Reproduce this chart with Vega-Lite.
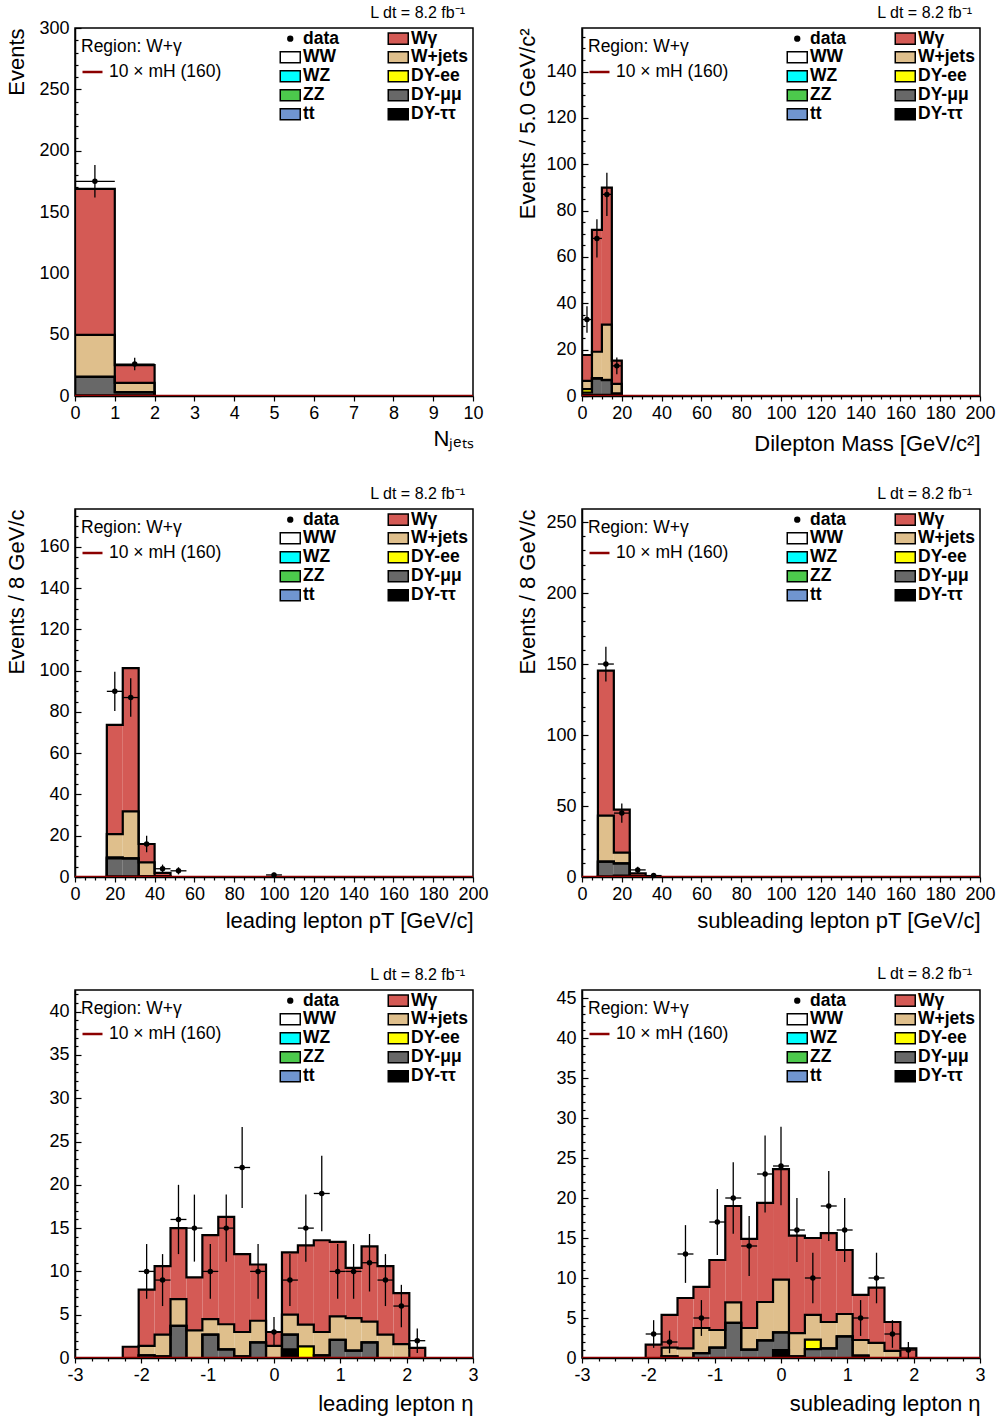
{
"$schema": "https://vega.github.io/schema/vega-lite/v6.json",
"background": "white",
"padding": {"left": 5, "top": 4, "right": 5, "bottom": 5},
"bounds": "flush",
"columns": 2,
"spacing": {"row": 113, "column": 109},
"datasets": {
"procs": [{"k":"tt","proc":"DY-ττ","o":0},{"k":"mm","proc":"DY-μμ","o":1},{"k":"ee","proc":"DY-ee","o":2},{"k":"wj","proc":"W+jets","o":3},{"k":"wg","proc":"Wγ","o":4}],
"nj_mc": [
{"lo":-1,"hi":0,"c":-0.5,"tt":0,"mm":0,"ee":0,"wj":0,"wg":0},
{"lo":0,"hi":1,"c":0.5,"tt":0.5,"mm":15,"ee":0.3,"wj":34,"wg":119},
{"lo":1,"hi":2,"c":1.5,"tt":0.5,"mm":2.5,"ee":0.2,"wj":7.5,"wg":14.5},
{"lo":2,"hi":3,"c":2.5,"tt":0,"mm":0,"ee":0,"wj":0,"wg":0}],
"nj_d": [{"lo":0,"hi":1,"c":0.5,"n":175,"e":13.23},{"lo":1,"hi":2,"c":1.5,"n":26,"e":5.1}],
"ml_mc": [
{"lo":-5,"hi":0,"c":-2.5,"tt":0,"mm":0,"ee":0,"wj":0,"wg":0},
{"lo":0,"hi":5,"c":2.5,"tt":0.5,"mm":1,"ee":1.5,"wj":3.5,"wg":11.2},
{"lo":5,"hi":10,"c":7.5,"tt":0.5,"mm":7,"ee":0.2,"wj":11.4,"wg":52.6},
{"lo":10,"hi":15,"c":12.5,"tt":0.5,"mm":6.3,"ee":0.2,"wj":23.8,"wg":59.1},
{"lo":15,"hi":20,"c":17.5,"tt":0.3,"mm":0.7,"ee":0,"wj":4.2,"wg":10.1},
{"lo":20,"hi":25,"c":22.5,"tt":0,"mm":0,"ee":0,"wj":0,"wg":0}],
"ml_d": [{"lo":0,"hi":5,"c":2.5,"n":33,"e":5.74},{"lo":5,"hi":10,"c":7.5,"n":68,"e":8.25},{"lo":10,"hi":15,"c":12.5,"n":87,"e":9.33},{"lo":15,"hi":20,"c":17.5,"n":13,"e":3.61}],
"lp_mc": [
{"lo":8,"hi":16,"c":12,"tt":0,"mm":0,"ee":0,"wj":0,"wg":0},
{"lo":16,"hi":24,"c":20,"tt":0.3,"mm":8.7,"ee":0.5,"wj":11.3,"wg":52.9},
{"lo":24,"hi":32,"c":28,"tt":0.3,"mm":8.7,"ee":0,"wj":22.8,"wg":69.5},
{"lo":32,"hi":40,"c":36,"tt":0,"mm":0.3,"ee":0,"wj":6.8,"wg":8.9},
{"lo":40,"hi":48,"c":44,"tt":0,"mm":0,"ee":0,"wj":0.4,"wg":1.6},
{"lo":48,"hi":56,"c":52,"tt":0,"mm":0,"ee":0,"wj":0,"wg":0}],
"lp_d": [{"lo":16,"hi":24,"c":20,"n":90,"e":9.49},{"lo":24,"hi":32,"c":28,"n":87,"e":9.33},{"lo":32,"hi":40,"c":36,"n":16,"e":4},{"lo":40,"hi":48,"c":44,"n":4,"e":2},{"lo":48,"hi":56,"c":52,"n":3,"e":1.73},{"lo":96,"hi":104,"c":100,"n":1,"e":1}],
"sp_mc": [
{"lo":0,"hi":8,"c":4,"tt":0,"mm":0,"ee":0,"wj":0,"wg":0},
{"lo":8,"hi":16,"c":12,"tt":0.5,"mm":10.3,"ee":0,"wj":32.4,"wg":102.1},
{"lo":16,"hi":24,"c":20,"tt":1,"mm":8.6,"ee":0,"wj":7.5,"wg":30.3},
{"lo":24,"hi":32,"c":28,"tt":0,"mm":0,"ee":0,"wj":0.6,"wg":2},
{"lo":32,"hi":40,"c":36,"tt":0,"mm":0,"ee":0,"wj":0,"wg":0}],
"sp_d": [{"lo":8,"hi":16,"c":12,"n":150,"e":12.25},{"lo":16,"hi":24,"c":20,"n":45,"e":6.71},{"lo":24,"hi":32,"c":28,"n":5,"e":2.24},{"lo":32,"hi":40,"c":36,"n":1,"e":1}],
"le_mc": [
{"lo":-2.52,"hi":-2.28,"c":-2.4,"tt":0,"mm":0,"ee":0,"wj":0,"wg":0},
{"lo":-2.28,"hi":-2.04,"c":-2.16,"tt":0,"mm":0,"ee":0,"wj":0,"wg":1.3},
{"lo":-2.04,"hi":-1.8,"c":-1.92,"tt":0,"mm":0.3,"ee":0,"wj":1.1,"wg":6.5},
{"lo":-1.8,"hi":-1.56,"c":-1.68,"tt":0,"mm":0.2,"ee":0,"wj":2.5,"wg":7.9},
{"lo":-1.56,"hi":-1.32,"c":-1.44,"tt":0,"mm":3.7,"ee":0,"wj":3.1,"wg":8.2},
{"lo":-1.32,"hi":-1.08,"c":-1.2,"tt":0,"mm":0,"ee":0,"wj":3.2,"wg":6.1},
{"lo":-1.08,"hi":-0.84,"c":-0.96,"tt":0,"mm":2.7,"ee":0,"wj":1.8,"wg":9.7},
{"lo":-0.84,"hi":-0.6,"c":-0.72,"tt":0,"mm":1,"ee":0,"wj":2.9,"wg":12.4},
{"lo":-0.6,"hi":-0.36,"c":-0.48,"tt":0,"mm":0.2,"ee":0,"wj":2.8,"wg":9},
{"lo":-0.36,"hi":-0.12,"c":-0.24,"tt":0,"mm":1.8,"ee":0,"wj":2.5,"wg":6.5},
{"lo":-0.12,"hi":0.12,"c":0,"tt":0,"mm":0,"ee":0,"wj":1.4,"wg":1.6},
{"lo":0.12,"hi":0.36,"c":0.24,"tt":1,"mm":1.7,"ee":0,"wj":2.3,"wg":7.2},
{"lo":0.36,"hi":0.6,"c":0.48,"tt":0,"mm":0,"ee":1.35,"wj":2.5,"wg":9.15},
{"lo":0.6,"hi":0.84,"c":0.72,"tt":0,"mm":0.3,"ee":0,"wj":2.7,"wg":10.6},
{"lo":0.84,"hi":1.08,"c":0.96,"tt":0,"mm":2.1,"ee":0,"wj":2.7,"wg":8.6},
{"lo":1.08,"hi":1.32,"c":1.2,"tt":0,"mm":0.85,"ee":0,"wj":3.75,"wg":5.8},
{"lo":1.32,"hi":1.56,"c":1.44,"tt":0,"mm":1.8,"ee":0,"wj":2.4,"wg":8.7},
{"lo":1.56,"hi":1.8,"c":1.68,"tt":0,"mm":0,"ee":0,"wj":2.7,"wg":7.9},
{"lo":1.8,"hi":2.04,"c":1.92,"tt":0,"mm":0,"ee":0,"wj":1.6,"wg":5.9},
{"lo":2.04,"hi":2.28,"c":2.16,"tt":0,"mm":0,"ee":0,"wj":0,"wg":1.16},
{"lo":2.28,"hi":2.52,"c":2.4,"tt":0,"mm":0,"ee":0,"wj":0,"wg":0}],
"le_d": [
{"lo":-2.04,"hi":-1.8,"c":-1.92,"n":10,"e":3.16},
{"lo":-1.8,"hi":-1.56,"c":-1.68,"n":9,"e":3},
{"lo":-1.56,"hi":-1.32,"c":-1.44,"n":16,"e":4},
{"lo":-1.32,"hi":-1.08,"c":-1.2,"n":15,"e":3.87},
{"lo":-1.08,"hi":-0.84,"c":-0.96,"n":10,"e":3.16},
{"lo":-0.84,"hi":-0.6,"c":-0.72,"n":15,"e":3.87},
{"lo":-0.6,"hi":-0.36,"c":-0.48,"n":22,"e":4.69},
{"lo":-0.36,"hi":-0.12,"c":-0.24,"n":10,"e":3.16},
{"lo":-0.12,"hi":0.12,"c":0,"n":3,"e":1.73},
{"lo":0.12,"hi":0.36,"c":0.24,"n":9,"e":3},
{"lo":0.36,"hi":0.6,"c":0.48,"n":15,"e":3.87},
{"lo":0.6,"hi":0.84,"c":0.72,"n":19,"e":4.36},
{"lo":0.84,"hi":1.08,"c":0.96,"n":10,"e":3.16},
{"lo":1.08,"hi":1.32,"c":1.2,"n":10,"e":3.16},
{"lo":1.32,"hi":1.56,"c":1.44,"n":11,"e":3.32},
{"lo":1.56,"hi":1.8,"c":1.68,"n":9,"e":3},
{"lo":1.8,"hi":2.04,"c":1.92,"n":6,"e":2.45},
{"lo":2.04,"hi":2.28,"c":2.16,"n":2,"e":1.41}],
"se_mc": [
{"lo":-2.28,"hi":-2.04,"c":-2.16,"tt":0,"mm":0,"ee":0,"wj":0,"wg":0},
{"lo":-2.04,"hi":-1.8,"c":-1.92,"tt":0,"mm":0,"ee":0,"wj":0,"wg":1.67},
{"lo":-1.8,"hi":-1.56,"c":-1.68,"tt":0,"mm":0.2,"ee":0,"wj":1.1,"wg":4.1},
{"lo":-1.56,"hi":-1.32,"c":-1.44,"tt":0,"mm":0,"ee":0,"wj":1.2,"wg":6.3},
{"lo":-1.32,"hi":-1.08,"c":-1.2,"tt":0,"mm":0.6,"ee":0,"wj":3.15,"wg":5.15},
{"lo":-1.08,"hi":-0.84,"c":-0.96,"tt":0,"mm":1.3,"ee":0,"wj":2.2,"wg":8.75},
{"lo":-0.84,"hi":-0.6,"c":-0.72,"tt":0,"mm":4.4,"ee":0,"wj":2.56,"wg":12.04},
{"lo":-0.6,"hi":-0.36,"c":-0.48,"tt":0,"mm":1.04,"ee":0,"wj":2.71,"wg":11.15},
{"lo":-0.36,"hi":-0.12,"c":-0.24,"tt":0,"mm":2.2,"ee":0,"wj":4.8,"wg":12.4},
{"lo":-0.12,"hi":0.12,"c":0,"tt":1,"mm":2.2,"ee":0,"wj":6.6,"wg":13.8},
{"lo":0.12,"hi":0.36,"c":0.24,"tt":0,"mm":0.2,"ee":0,"wj":2.9,"wg":12.2},
{"lo":0.36,"hi":0.6,"c":0.48,"tt":0,"mm":1.1,"ee":1.2,"wj":3.1,"wg":9.6},
{"lo":0.6,"hi":0.84,"c":0.72,"tt":0,"mm":1.2,"ee":0,"wj":3.3,"wg":11.1},
{"lo":0.84,"hi":1.08,"c":0.96,"tt":0,"mm":2.7,"ee":0,"wj":2.8,"wg":8},
{"lo":1.08,"hi":1.32,"c":1.2,"tt":0,"mm":0.3,"ee":0,"wj":1.95,"wg":5.65},
{"lo":1.32,"hi":1.56,"c":1.44,"tt":0,"mm":0,"ee":0,"wj":1.9,"wg":6.9},
{"lo":1.56,"hi":1.8,"c":1.68,"tt":0,"mm":0,"ee":0,"wj":0.9,"wg":3.6},
{"lo":1.8,"hi":2.04,"c":1.92,"tt":0,"mm":0,"ee":0,"wj":0,"wg":1.2},
{"lo":2.04,"hi":2.28,"c":2.16,"tt":0,"mm":0,"ee":0,"wj":0,"wg":0}],
"se_d": [
{"lo":-2.04,"hi":-1.8,"c":-1.92,"n":3,"e":1.73},
{"lo":-1.8,"hi":-1.56,"c":-1.68,"n":2,"e":1.41},
{"lo":-1.56,"hi":-1.32,"c":-1.44,"n":13,"e":3.61},
{"lo":-1.32,"hi":-1.08,"c":-1.2,"n":5,"e":2.24},
{"lo":-1.08,"hi":-0.84,"c":-0.96,"n":17,"e":4.12},
{"lo":-0.84,"hi":-0.6,"c":-0.72,"n":20,"e":4.47},
{"lo":-0.6,"hi":-0.36,"c":-0.48,"n":14,"e":3.74},
{"lo":-0.36,"hi":-0.12,"c":-0.24,"n":23,"e":4.8},
{"lo":-0.12,"hi":0.12,"c":0,"n":24,"e":4.9},
{"lo":0.12,"hi":0.36,"c":0.24,"n":16,"e":4},
{"lo":0.36,"hi":0.6,"c":0.48,"n":10,"e":3.16},
{"lo":0.6,"hi":0.84,"c":0.72,"n":19,"e":4.36},
{"lo":0.84,"hi":1.08,"c":0.96,"n":16,"e":4},
{"lo":1.08,"hi":1.32,"c":1.2,"n":5,"e":2.24},
{"lo":1.32,"hi":1.56,"c":1.44,"n":10,"e":3.16},
{"lo":1.56,"hi":1.8,"c":1.68,"n":3,"e":1.73},
{"lo":1.8,"hi":2.04,"c":1.92,"n":1,"e":1}]
},
"concat": [
{
"width": 398, "height": 368,
"title": {"text": "L dt = 8.2 fb⁻¹", "dy": 9},
"resolve": {"axis": {"x": "independent", "y": "independent"}},
"layer": [
{"data": {"name": "nj_mc"},
 "transform": [{"fold": ["tt","mm","ee","wj","wg"], "as": ["k","n"]},{"lookup": "k", "from": {"data": {"name": "procs"}, "key": "k", "fields": ["proc","o"]}},{"stack": "n", "groupby": ["lo"], "sort": [{"field": "o", "order": "ascending"}], "as": ["y0","y1"]}],
 "mark": {"type": "rect", "clip": true},
 "encoding": {
  "x": {"field": "lo", "type": "quantitative", "scale": {"domain": [0,10], "nice": false, "zero": false}, "axis": {"orient": "bottom", "values": [0,1,2,3,4,5,6,7,8,9,10], "format": "d", "title": "Nⱼₑₜₛ", "titleAnchor": "end", "titlePadding": 6, "tickSize": 5, "labelPadding": 3, "labelOverlap": false, "labelFlush": false}},
  "x2": {"field": "hi"},
  "y": {"field": "y0", "type": "quantitative", "scale": {"domain": [0,300], "nice": false}, "axis": {"orient": "left", "values": [0,50,100,150,200,250,300], "format": "d", "title": "Events", "titleAnchor": "end", "tickSize": -6, "labelPadding": 12, "titlePadding": 10, "labelOverlap": false, "labelFlush": false}},
  "y2": {"field": "y1"},
  "color": {"field": "proc", "type": "nominal",
   "scale": {"domain": ["data","WW","WZ","ZZ","tt","Wγ","W+jets","DY-ee","DY-μμ","DY-ττ"], "range": ["#000000","#ffffff","#00ffff","#4cc94c","#7095d0","#d45a55","#dfbf8c","#ffff00","#686868","#000000"]},
   "legend": {"orient": "none", "legendX": 206.5, "legendY": 1.5, "columns": 2, "title": null, "labelFont": "Liberation Sans", "labelFontSize": 17.5, "labelFontWeight": "bold", "labelColor": "black", "labelOffset": 4, "columnPadding": 45, "rowPadding": 0, "symbolSize": 64, "symbolType": "M-2.5,-1.4H2.5V1.4H-2.5Z", "symbolStrokeColor": "black", "symbolStrokeWidth": 1.5, "symbolOpacity": 1, "labelLimit": 200,
    "encode": {"symbols": {"update": {"shape": {"signal": "datum.value === 'data' ? 'M-0.6,0A0.6,0.6 0 1,0 0.6,0A0.6,0.6 0 1,0 -0.6,0Z' : 'M-2.5,-1.4H2.5V1.4H-2.5Z'"}}}}}}
 }},
{"data": {"name": "nj_mc"},
 "transform": [{"fold": ["tt","mm","ee","wj","wg"], "as": ["k","n"]},{"lookup": "k", "from": {"data": {"name": "procs"}, "key": "k", "fields": ["proc","o"]}},{"stack": "n", "groupby": ["lo"], "sort": [{"field": "o", "order": "ascending"}], "as": ["y0","y1"]}],
 "mark": {"type": "line", "interpolate": "step", "clip": true, "color": "black", "strokeWidth": 2.2},
 "encoding": {"x": {"field": "c", "type": "quantitative", "axis": null},
  "y": {"field": "y1", "type": "quantitative", "axis": {"orient": "left", "values": [10,20,30,40,60,70,80,90,110,120,130,140,160,170,180,190,210,220,230,240,260,270,280,290], "labels": false, "domain": false, "tickSize": -3, "title": null}},
  "detail": {"field": "proc"}}},
{"data": {"values": [{"x": 0, "s": 0}, {"x": 10, "s": 0}]},
 "mark": {"type": "line", "strokeWidth": 2.5, "clip": true},
 "encoding": {"x": {"field": "x", "type": "quantitative", "axis": null}, "y": {"field": "s", "type": "quantitative", "axis": null},
  "stroke": {"datum": "10 × mH (160)", "type": "nominal", "scale": {"range": ["#8b0000"]},
   "legend": {"orient": "none", "legendX": 6, "legendY": 10, "title": "Region: W+γ", "titleFont": "Liberation Sans", "titleFontSize": 17.5, "titleFontWeight": "normal", "titleColor": "black", "titlePadding": 5, "labelFont": "Liberation Sans", "labelFontSize": 17.5, "labelColor": "black", "labelOffset": 5, "symbolType": "stroke", "symbolSize": 400, "symbolStrokeWidth": 2.5, "encode": {"symbols": {"update": {"stroke": {"value": "#ff0000"}}}}}}}},
{"data": {"name": "nj_d"}, "mark": {"type": "errorbar", "color": "black", "thickness": 1.3},
 "encoding": {"x": {"field": "c", "type": "quantitative", "axis": null}, "y": {"field": "n", "type": "quantitative", "axis": null}, "yError": {"field": "e"}}},
{"data": {"name": "nj_d"}, "mark": {"type": "errorbar", "color": "black", "thickness": 1.3},
 "encoding": {"x": {"field": "lo", "type": "quantitative", "axis": null}, "x2": {"field": "hi"}, "y": {"field": "n", "type": "quantitative", "axis": null}}},
{"data": {"name": "nj_d"}, "mark": {"type": "point", "filled": true, "color": "black", "size": 30, "opacity": 1},
 "encoding": {"x": {"field": "c", "type": "quantitative", "axis": null}, "y": {"field": "n", "type": "quantitative", "axis": null}}}
]},
{
"width": 398, "height": 368,
"title": {"text": "L dt = 8.2 fb⁻¹"},
"resolve": {"axis": {"x": "independent", "y": "independent"}},
"layer": [
{"data": {"name": "ml_mc"},
 "transform": [{"fold": ["tt","mm","ee","wj","wg"], "as": ["k","n"]},{"lookup": "k", "from": {"data": {"name": "procs"}, "key": "k", "fields": ["proc","o"]}},{"stack": "n", "groupby": ["lo"], "sort": [{"field": "o", "order": "ascending"}], "as": ["y0","y1"]}],
 "mark": {"type": "rect", "clip": true},
 "encoding": {
  "x": {"field": "lo", "type": "quantitative", "scale": {"domain": [0,200], "nice": false, "zero": false}, "axis": {"orient": "bottom", "values": [0,20,40,60,80,100,120,140,160,180,200], "format": "d", "title": "Dilepton Mass [GeV/c²]", "titleAnchor": "end", "titlePadding": 11, "tickSize": 5, "labelPadding": 3, "labelOverlap": false, "labelFlush": false}},
  "x2": {"field": "hi"},
  "y": {"field": "y0", "type": "quantitative", "scale": {"domain": [0,158.8], "nice": false}, "axis": {"orient": "left", "values": [0,20,40,60,80,100,120,140], "format": "d", "title": "Events / 5.0 GeV/c²", "titleAnchor": "end", "tickSize": -6, "labelPadding": 12, "titlePadding": 6, "labelOverlap": false, "labelFlush": false}},
  "y2": {"field": "y1"},
  "color": {"field": "proc", "type": "nominal",
   "scale": {"domain": ["data","WW","WZ","ZZ","tt","Wγ","W+jets","DY-ee","DY-μμ","DY-ττ"], "range": ["#000000","#ffffff","#00ffff","#4cc94c","#7095d0","#d45a55","#dfbf8c","#ffff00","#686868","#000000"]},
   "legend": {"orient": "none", "legendX": 206.5, "legendY": 1.5, "columns": 2, "title": null, "labelFont": "Liberation Sans", "labelFontSize": 17.5, "labelFontWeight": "bold", "labelColor": "black", "labelOffset": 4, "columnPadding": 45, "rowPadding": 0, "symbolSize": 64, "symbolType": "M-2.5,-1.4H2.5V1.4H-2.5Z", "symbolStrokeColor": "black", "symbolStrokeWidth": 1.5, "symbolOpacity": 1, "labelLimit": 200,
    "encode": {"symbols": {"update": {"shape": {"signal": "datum.value === 'data' ? 'M-0.6,0A0.6,0.6 0 1,0 0.6,0A0.6,0.6 0 1,0 -0.6,0Z' : 'M-2.5,-1.4H2.5V1.4H-2.5Z'"}}}}}}
 }},
{"data": {"name": "ml_mc"},
 "transform": [{"fold": ["tt","mm","ee","wj","wg"], "as": ["k","n"]},{"lookup": "k", "from": {"data": {"name": "procs"}, "key": "k", "fields": ["proc","o"]}},{"stack": "n", "groupby": ["lo"], "sort": [{"field": "o", "order": "ascending"}], "as": ["y0","y1"]}],
 "mark": {"type": "line", "interpolate": "step", "clip": true, "color": "black", "strokeWidth": 2.2},
 "encoding": {"x": {"field": "c", "type": "quantitative", "axis": {"orient": "bottom", "values": [5,10,15,25,30,35,45,50,55,65,70,75,85,90,95,105,110,115,125,130,135,145,150,155,165,170,175,185,190,195], "labels": false, "domain": false, "tickSize": 3, "title": null}},
  "y": {"field": "y1", "type": "quantitative", "axis": {"orient": "left", "values": [5,10,15,25,30,35,45,50,55,65,70,75,85,90,95,105,110,115,125,130,135,145,150,155], "labels": false, "domain": false, "tickSize": -3, "title": null}},
  "detail": {"field": "proc"}}},
{"data": {"values": [{"x": 0, "s": 0}, {"x": 200, "s": 0}]},
 "mark": {"type": "line", "strokeWidth": 2.5, "clip": true},
 "encoding": {"x": {"field": "x", "type": "quantitative", "axis": null}, "y": {"field": "s", "type": "quantitative", "axis": null},
  "stroke": {"datum": "10 × mH (160)", "type": "nominal", "scale": {"range": ["#8b0000"]},
   "legend": {"orient": "none", "legendX": 6, "legendY": 10, "title": "Region: W+γ", "titleFont": "Liberation Sans", "titleFontSize": 17.5, "titleFontWeight": "normal", "titleColor": "black", "titlePadding": 5, "labelFont": "Liberation Sans", "labelFontSize": 17.5, "labelColor": "black", "labelOffset": 5, "symbolType": "stroke", "symbolSize": 400, "symbolStrokeWidth": 2.5, "encode": {"symbols": {"update": {"stroke": {"value": "#ff0000"}}}}}}}},
{"data": {"name": "ml_d"}, "mark": {"type": "errorbar", "color": "black", "thickness": 1.3},
 "encoding": {"x": {"field": "c", "type": "quantitative", "axis": null}, "y": {"field": "n", "type": "quantitative", "axis": null}, "yError": {"field": "e"}}},
{"data": {"name": "ml_d"}, "mark": {"type": "errorbar", "color": "black", "thickness": 1.3},
 "encoding": {"x": {"field": "lo", "type": "quantitative", "axis": null}, "x2": {"field": "hi"}, "y": {"field": "n", "type": "quantitative", "axis": null}}},
{"data": {"name": "ml_d"}, "mark": {"type": "point", "filled": true, "color": "black", "size": 30, "opacity": 1},
 "encoding": {"x": {"field": "c", "type": "quantitative", "axis": null}, "y": {"field": "n", "type": "quantitative", "axis": null}}}
]},
{
"width": 398, "height": 368,
"title": {"text": "L dt = 8.2 fb⁻¹"},
"resolve": {"axis": {"x": "independent", "y": "independent"}},
"layer": [
{"data": {"name": "lp_mc"},
 "transform": [{"fold": ["tt","mm","ee","wj","wg"], "as": ["k","n"]},{"lookup": "k", "from": {"data": {"name": "procs"}, "key": "k", "fields": ["proc","o"]}},{"stack": "n", "groupby": ["lo"], "sort": [{"field": "o", "order": "ascending"}], "as": ["y0","y1"]}],
 "mark": {"type": "rect", "clip": true},
 "encoding": {
  "x": {"field": "lo", "type": "quantitative", "scale": {"domain": [0,200], "nice": false, "zero": false}, "axis": {"orient": "bottom", "values": [0,20,40,60,80,100,120,140,160,180,200], "format": "d", "title": "leading lepton pT [GeV/c]", "titleAnchor": "end", "titlePadding": 7, "tickSize": 5, "labelPadding": 3, "labelOverlap": false, "labelFlush": false}},
  "x2": {"field": "hi"},
  "y": {"field": "y0", "type": "quantitative", "scale": {"domain": [0,178.4], "nice": false}, "axis": {"orient": "left", "values": [0,20,40,60,80,100,120,140,160], "format": "d", "title": "Events / 8 GeV/c", "titleAnchor": "end", "tickSize": -6, "labelPadding": 12, "titlePadding": 10, "labelOverlap": false, "labelFlush": false}},
  "y2": {"field": "y1"},
  "color": {"field": "proc", "type": "nominal",
   "scale": {"domain": ["data","WW","WZ","ZZ","tt","Wγ","W+jets","DY-ee","DY-μμ","DY-ττ"], "range": ["#000000","#ffffff","#00ffff","#4cc94c","#7095d0","#d45a55","#dfbf8c","#ffff00","#686868","#000000"]},
   "legend": {"orient": "none", "legendX": 206.5, "legendY": 1.5, "columns": 2, "title": null, "labelFont": "Liberation Sans", "labelFontSize": 17.5, "labelFontWeight": "bold", "labelColor": "black", "labelOffset": 4, "columnPadding": 45, "rowPadding": 0, "symbolSize": 64, "symbolType": "M-2.5,-1.4H2.5V1.4H-2.5Z", "symbolStrokeColor": "black", "symbolStrokeWidth": 1.5, "symbolOpacity": 1, "labelLimit": 200,
    "encode": {"symbols": {"update": {"shape": {"signal": "datum.value === 'data' ? 'M-0.6,0A0.6,0.6 0 1,0 0.6,0A0.6,0.6 0 1,0 -0.6,0Z' : 'M-2.5,-1.4H2.5V1.4H-2.5Z'"}}}}}}
 }},
{"data": {"name": "lp_mc"},
 "transform": [{"fold": ["tt","mm","ee","wj","wg"], "as": ["k","n"]},{"lookup": "k", "from": {"data": {"name": "procs"}, "key": "k", "fields": ["proc","o"]}},{"stack": "n", "groupby": ["lo"], "sort": [{"field": "o", "order": "ascending"}], "as": ["y0","y1"]}],
 "mark": {"type": "line", "interpolate": "step", "clip": true, "color": "black", "strokeWidth": 2.2},
 "encoding": {"x": {"field": "c", "type": "quantitative", "axis": {"orient": "bottom", "values": [5,10,15,25,30,35,45,50,55,65,70,75,85,90,95,105,110,115,125,130,135,145,150,155,165,170,175,185,190,195], "labels": false, "domain": false, "tickSize": 3, "title": null}},
  "y": {"field": "y1", "type": "quantitative", "axis": {"orient": "left", "values": [5,10,15,25,30,35,45,50,55,65,70,75,85,90,95,105,110,115,125,130,135,145,150,155,165,170,175], "labels": false, "domain": false, "tickSize": -3, "title": null}},
  "detail": {"field": "proc"}}},
{"data": {"values": [{"x": 0, "s": 0}, {"x": 200, "s": 0}]},
 "mark": {"type": "line", "strokeWidth": 2.5, "clip": true},
 "encoding": {"x": {"field": "x", "type": "quantitative", "axis": null}, "y": {"field": "s", "type": "quantitative", "axis": null},
  "stroke": {"datum": "10 × mH (160)", "type": "nominal", "scale": {"range": ["#8b0000"]},
   "legend": {"orient": "none", "legendX": 6, "legendY": 10, "title": "Region: W+γ", "titleFont": "Liberation Sans", "titleFontSize": 17.5, "titleFontWeight": "normal", "titleColor": "black", "titlePadding": 5, "labelFont": "Liberation Sans", "labelFontSize": 17.5, "labelColor": "black", "labelOffset": 5, "symbolType": "stroke", "symbolSize": 400, "symbolStrokeWidth": 2.5, "encode": {"symbols": {"update": {"stroke": {"value": "#ff0000"}}}}}}}},
{"data": {"name": "lp_d"}, "mark": {"type": "errorbar", "color": "black", "thickness": 1.3},
 "encoding": {"x": {"field": "c", "type": "quantitative", "axis": null}, "y": {"field": "n", "type": "quantitative", "axis": null}, "yError": {"field": "e"}}},
{"data": {"name": "lp_d"}, "mark": {"type": "errorbar", "color": "black", "thickness": 1.3},
 "encoding": {"x": {"field": "lo", "type": "quantitative", "axis": null}, "x2": {"field": "hi"}, "y": {"field": "n", "type": "quantitative", "axis": null}}},
{"data": {"name": "lp_d"}, "mark": {"type": "point", "filled": true, "color": "black", "size": 30, "opacity": 1},
 "encoding": {"x": {"field": "c", "type": "quantitative", "axis": null}, "y": {"field": "n", "type": "quantitative", "axis": null}}}
]},
{
"width": 398, "height": 368,
"title": {"text": "L dt = 8.2 fb⁻¹"},
"resolve": {"axis": {"x": "independent", "y": "independent"}},
"layer": [
{"data": {"name": "sp_mc"},
 "transform": [{"fold": ["tt","mm","ee","wj","wg"], "as": ["k","n"]},{"lookup": "k", "from": {"data": {"name": "procs"}, "key": "k", "fields": ["proc","o"]}},{"stack": "n", "groupby": ["lo"], "sort": [{"field": "o", "order": "ascending"}], "as": ["y0","y1"]}],
 "mark": {"type": "rect", "clip": true},
 "encoding": {
  "x": {"field": "lo", "type": "quantitative", "scale": {"domain": [0,200], "nice": false, "zero": false}, "axis": {"orient": "bottom", "values": [0,20,40,60,80,100,120,140,160,180,200], "format": "d", "title": "subleading lepton pT [GeV/c]", "titleAnchor": "end", "titlePadding": 7, "tickSize": 5, "labelPadding": 3, "labelOverlap": false, "labelFlush": false}},
  "x2": {"field": "hi"},
  "y": {"field": "y0", "type": "quantitative", "scale": {"domain": [0,259.2], "nice": false}, "axis": {"orient": "left", "values": [0,50,100,150,200,250], "format": "d", "title": "Events / 8 GeV/c", "titleAnchor": "end", "tickSize": -6, "labelPadding": 12, "titlePadding": 6, "labelOverlap": false, "labelFlush": false}},
  "y2": {"field": "y1"},
  "color": {"field": "proc", "type": "nominal",
   "scale": {"domain": ["data","WW","WZ","ZZ","tt","Wγ","W+jets","DY-ee","DY-μμ","DY-ττ"], "range": ["#000000","#ffffff","#00ffff","#4cc94c","#7095d0","#d45a55","#dfbf8c","#ffff00","#686868","#000000"]},
   "legend": {"orient": "none", "legendX": 206.5, "legendY": 1.5, "columns": 2, "title": null, "labelFont": "Liberation Sans", "labelFontSize": 17.5, "labelFontWeight": "bold", "labelColor": "black", "labelOffset": 4, "columnPadding": 45, "rowPadding": 0, "symbolSize": 64, "symbolType": "M-2.5,-1.4H2.5V1.4H-2.5Z", "symbolStrokeColor": "black", "symbolStrokeWidth": 1.5, "symbolOpacity": 1, "labelLimit": 200,
    "encode": {"symbols": {"update": {"shape": {"signal": "datum.value === 'data' ? 'M-0.6,0A0.6,0.6 0 1,0 0.6,0A0.6,0.6 0 1,0 -0.6,0Z' : 'M-2.5,-1.4H2.5V1.4H-2.5Z'"}}}}}}
 }},
{"data": {"name": "sp_mc"},
 "transform": [{"fold": ["tt","mm","ee","wj","wg"], "as": ["k","n"]},{"lookup": "k", "from": {"data": {"name": "procs"}, "key": "k", "fields": ["proc","o"]}},{"stack": "n", "groupby": ["lo"], "sort": [{"field": "o", "order": "ascending"}], "as": ["y0","y1"]}],
 "mark": {"type": "line", "interpolate": "step", "clip": true, "color": "black", "strokeWidth": 2.2},
 "encoding": {"x": {"field": "c", "type": "quantitative", "axis": {"orient": "bottom", "values": [5,10,15,25,30,35,45,50,55,65,70,75,85,90,95,105,110,115,125,130,135,145,150,155,165,170,175,185,190,195], "labels": false, "domain": false, "tickSize": 3, "title": null}},
  "y": {"field": "y1", "type": "quantitative", "axis": {"orient": "left", "values": [10,20,30,40,60,70,80,90,110,120,130,140,160,170,180,190,210,220,230,240], "labels": false, "domain": false, "tickSize": -3, "title": null}},
  "detail": {"field": "proc"}}},
{"data": {"values": [{"x": 0, "s": 0}, {"x": 200, "s": 0}]},
 "mark": {"type": "line", "strokeWidth": 2.5, "clip": true},
 "encoding": {"x": {"field": "x", "type": "quantitative", "axis": null}, "y": {"field": "s", "type": "quantitative", "axis": null},
  "stroke": {"datum": "10 × mH (160)", "type": "nominal", "scale": {"range": ["#8b0000"]},
   "legend": {"orient": "none", "legendX": 6, "legendY": 10, "title": "Region: W+γ", "titleFont": "Liberation Sans", "titleFontSize": 17.5, "titleFontWeight": "normal", "titleColor": "black", "titlePadding": 5, "labelFont": "Liberation Sans", "labelFontSize": 17.5, "labelColor": "black", "labelOffset": 5, "symbolType": "stroke", "symbolSize": 400, "symbolStrokeWidth": 2.5, "encode": {"symbols": {"update": {"stroke": {"value": "#ff0000"}}}}}}}},
{"data": {"name": "sp_d"}, "mark": {"type": "errorbar", "color": "black", "thickness": 1.3},
 "encoding": {"x": {"field": "c", "type": "quantitative", "axis": null}, "y": {"field": "n", "type": "quantitative", "axis": null}, "yError": {"field": "e"}}},
{"data": {"name": "sp_d"}, "mark": {"type": "errorbar", "color": "black", "thickness": 1.3},
 "encoding": {"x": {"field": "lo", "type": "quantitative", "axis": null}, "x2": {"field": "hi"}, "y": {"field": "n", "type": "quantitative", "axis": null}}},
{"data": {"name": "sp_d"}, "mark": {"type": "point", "filled": true, "color": "black", "size": 30, "opacity": 1},
 "encoding": {"x": {"field": "c", "type": "quantitative", "axis": null}, "y": {"field": "n", "type": "quantitative", "axis": null}}}
]},
{
"width": 398, "height": 368,
"title": {"text": "L dt = 8.2 fb⁻¹"},
"resolve": {"axis": {"x": "independent", "y": "independent"}},
"layer": [
{"data": {"name": "le_mc"},
 "transform": [{"fold": ["tt","mm","ee","wj","wg"], "as": ["k","n"]},{"lookup": "k", "from": {"data": {"name": "procs"}, "key": "k", "fields": ["proc","o"]}},{"stack": "n", "groupby": ["lo"], "sort": [{"field": "o", "order": "ascending"}], "as": ["y0","y1"]}],
 "mark": {"type": "rect", "clip": true},
 "encoding": {
  "x": {"field": "lo", "type": "quantitative", "scale": {"domain": [-3,3], "nice": false, "zero": false}, "axis": {"orient": "bottom", "values": [-3,-2,-1,0,1,2,3], "format": "d", "labelExpr": "replace(datum.label, '−', '-')", "title": "leading lepton η", "titleAnchor": "end", "titlePadding": 9, "tickSize": 5, "labelPadding": 3, "labelOverlap": false, "labelFlush": false}},
  "x2": {"field": "hi"},
  "y": {"field": "y0", "type": "quantitative", "scale": {"domain": [0,42.5], "nice": false}, "axis": {"orient": "left", "values": [0,5,10,15,20,25,30,35,40], "format": "d", "title": null, "tickSize": -6, "labelPadding": 12, "labelOverlap": false, "labelFlush": false}},
  "y2": {"field": "y1"},
  "color": {"field": "proc", "type": "nominal",
   "scale": {"domain": ["data","WW","WZ","ZZ","tt","Wγ","W+jets","DY-ee","DY-μμ","DY-ττ"], "range": ["#000000","#ffffff","#00ffff","#4cc94c","#7095d0","#d45a55","#dfbf8c","#ffff00","#686868","#000000"]},
   "legend": {"orient": "none", "legendX": 206.5, "legendY": 1.5, "columns": 2, "title": null, "labelFont": "Liberation Sans", "labelFontSize": 17.5, "labelFontWeight": "bold", "labelColor": "black", "labelOffset": 4, "columnPadding": 45, "rowPadding": 0, "symbolSize": 64, "symbolType": "M-2.5,-1.4H2.5V1.4H-2.5Z", "symbolStrokeColor": "black", "symbolStrokeWidth": 1.5, "symbolOpacity": 1, "labelLimit": 200,
    "encode": {"symbols": {"update": {"shape": {"signal": "datum.value === 'data' ? 'M-0.6,0A0.6,0.6 0 1,0 0.6,0A0.6,0.6 0 1,0 -0.6,0Z' : 'M-2.5,-1.4H2.5V1.4H-2.5Z'"}}}}}}
 }},
{"data": {"name": "le_mc"},
 "transform": [{"fold": ["tt","mm","ee","wj","wg"], "as": ["k","n"]},{"lookup": "k", "from": {"data": {"name": "procs"}, "key": "k", "fields": ["proc","o"]}},{"stack": "n", "groupby": ["lo"], "sort": [{"field": "o", "order": "ascending"}], "as": ["y0","y1"]}],
 "mark": {"type": "line", "interpolate": "step", "clip": true, "color": "black", "strokeWidth": 2.2},
 "encoding": {"x": {"field": "c", "type": "quantitative", "axis": {"orient": "bottom", "values": [-2.75,-2.5,-2.25,-1.75,-1.5,-1.25,-0.75,-0.5,-0.25,0.25,0.5,0.75,1.25,1.5,1.75,2.25,2.5,2.75], "labels": false, "domain": false, "tickSize": 3, "title": null}},
  "y": {"field": "y1", "type": "quantitative", "axis": {"orient": "left", "values": [1,2,3,4,6,7,8,9,11,12,13,14,16,17,18,19,21,22,23,24,26,27,28,29,31,32,33,34,36,37,38,39,41,42], "labels": false, "domain": false, "tickSize": -3, "title": null}},
  "detail": {"field": "proc"}}},
{"data": {"values": [{"x": -3, "s": 0}, {"x": 3, "s": 0}]},
 "mark": {"type": "line", "strokeWidth": 2.5, "clip": true},
 "encoding": {"x": {"field": "x", "type": "quantitative", "axis": null}, "y": {"field": "s", "type": "quantitative", "axis": null},
  "stroke": {"datum": "10 × mH (160)", "type": "nominal", "scale": {"range": ["#8b0000"]},
   "legend": {"orient": "none", "legendX": 6, "legendY": 10, "title": "Region: W+γ", "titleFont": "Liberation Sans", "titleFontSize": 17.5, "titleFontWeight": "normal", "titleColor": "black", "titlePadding": 5, "labelFont": "Liberation Sans", "labelFontSize": 17.5, "labelColor": "black", "labelOffset": 5, "symbolType": "stroke", "symbolSize": 400, "symbolStrokeWidth": 2.5, "encode": {"symbols": {"update": {"stroke": {"value": "#ff0000"}}}}}}}},
{"data": {"name": "le_d"}, "mark": {"type": "errorbar", "color": "black", "thickness": 1.3},
 "encoding": {"x": {"field": "c", "type": "quantitative", "axis": null}, "y": {"field": "n", "type": "quantitative", "axis": null}, "yError": {"field": "e"}}},
{"data": {"name": "le_d"}, "mark": {"type": "errorbar", "color": "black", "thickness": 1.3},
 "encoding": {"x": {"field": "lo", "type": "quantitative", "axis": null}, "x2": {"field": "hi"}, "y": {"field": "n", "type": "quantitative", "axis": null}}},
{"data": {"name": "le_d"}, "mark": {"type": "point", "filled": true, "color": "black", "size": 30, "opacity": 1},
 "encoding": {"x": {"field": "c", "type": "quantitative", "axis": null}, "y": {"field": "n", "type": "quantitative", "axis": null}}}
]},
{
"width": 398, "height": 368,
"title": {"text": "L dt = 8.2 fb⁻¹"},
"resolve": {"axis": {"x": "independent", "y": "independent"}},
"layer": [
{"data": {"name": "se_mc"},
 "transform": [{"fold": ["tt","mm","ee","wj","wg"], "as": ["k","n"]},{"lookup": "k", "from": {"data": {"name": "procs"}, "key": "k", "fields": ["proc","o"]}},{"stack": "n", "groupby": ["lo"], "sort": [{"field": "o", "order": "ascending"}], "as": ["y0","y1"]}],
 "mark": {"type": "rect", "clip": true},
 "encoding": {
  "x": {"field": "lo", "type": "quantitative", "scale": {"domain": [-3,3], "nice": false, "zero": false}, "axis": {"orient": "bottom", "values": [-3,-2,-1,0,1,2,3], "format": "d", "labelExpr": "replace(datum.label, '−', '-')", "title": "subleading lepton η", "titleAnchor": "end", "titlePadding": 9, "tickSize": 5, "labelPadding": 3, "labelOverlap": false, "labelFlush": false}},
  "x2": {"field": "hi"},
  "y": {"field": "y0", "type": "quantitative", "scale": {"domain": [0,46], "nice": false}, "axis": {"orient": "left", "values": [0,5,10,15,20,25,30,35,40,45], "format": "d", "title": null, "tickSize": -6, "labelPadding": 12, "labelOverlap": false, "labelFlush": false}},
  "y2": {"field": "y1"},
  "color": {"field": "proc", "type": "nominal",
   "scale": {"domain": ["data","WW","WZ","ZZ","tt","Wγ","W+jets","DY-ee","DY-μμ","DY-ττ"], "range": ["#000000","#ffffff","#00ffff","#4cc94c","#7095d0","#d45a55","#dfbf8c","#ffff00","#686868","#000000"]},
   "legend": {"orient": "none", "legendX": 206.5, "legendY": 1.5, "columns": 2, "title": null, "labelFont": "Liberation Sans", "labelFontSize": 17.5, "labelFontWeight": "bold", "labelColor": "black", "labelOffset": 4, "columnPadding": 45, "rowPadding": 0, "symbolSize": 64, "symbolType": "M-2.5,-1.4H2.5V1.4H-2.5Z", "symbolStrokeColor": "black", "symbolStrokeWidth": 1.5, "symbolOpacity": 1, "labelLimit": 200,
    "encode": {"symbols": {"update": {"shape": {"signal": "datum.value === 'data' ? 'M-0.6,0A0.6,0.6 0 1,0 0.6,0A0.6,0.6 0 1,0 -0.6,0Z' : 'M-2.5,-1.4H2.5V1.4H-2.5Z'"}}}}}}
 }},
{"data": {"name": "se_mc"},
 "transform": [{"fold": ["tt","mm","ee","wj","wg"], "as": ["k","n"]},{"lookup": "k", "from": {"data": {"name": "procs"}, "key": "k", "fields": ["proc","o"]}},{"stack": "n", "groupby": ["lo"], "sort": [{"field": "o", "order": "ascending"}], "as": ["y0","y1"]}],
 "mark": {"type": "line", "interpolate": "step", "clip": true, "color": "black", "strokeWidth": 2.2},
 "encoding": {"x": {"field": "c", "type": "quantitative", "axis": {"orient": "bottom", "values": [-2.75,-2.5,-2.25,-1.75,-1.5,-1.25,-0.75,-0.5,-0.25,0.25,0.5,0.75,1.25,1.5,1.75,2.25,2.5,2.75], "labels": false, "domain": false, "tickSize": 3, "title": null}},
  "y": {"field": "y1", "type": "quantitative", "axis": {"orient": "left", "values": [1,2,3,4,6,7,8,9,11,12,13,14,16,17,18,19,21,22,23,24,26,27,28,29,31,32,33,34,36,37,38,39,41,42,43,44], "labels": false, "domain": false, "tickSize": -3, "title": null}},
  "detail": {"field": "proc"}}},
{"data": {"values": [{"x": -3, "s": 0}, {"x": 3, "s": 0}]},
 "mark": {"type": "line", "strokeWidth": 2.5, "clip": true},
 "encoding": {"x": {"field": "x", "type": "quantitative", "axis": null}, "y": {"field": "s", "type": "quantitative", "axis": null},
  "stroke": {"datum": "10 × mH (160)", "type": "nominal", "scale": {"range": ["#8b0000"]},
   "legend": {"orient": "none", "legendX": 6, "legendY": 10, "title": "Region: W+γ", "titleFont": "Liberation Sans", "titleFontSize": 17.5, "titleFontWeight": "normal", "titleColor": "black", "titlePadding": 5, "labelFont": "Liberation Sans", "labelFontSize": 17.5, "labelColor": "black", "labelOffset": 5, "symbolType": "stroke", "symbolSize": 400, "symbolStrokeWidth": 2.5, "encode": {"symbols": {"update": {"stroke": {"value": "#ff0000"}}}}}}}},
{"data": {"name": "se_d"}, "mark": {"type": "errorbar", "color": "black", "thickness": 1.3},
 "encoding": {"x": {"field": "c", "type": "quantitative", "axis": null}, "y": {"field": "n", "type": "quantitative", "axis": null}, "yError": {"field": "e"}}},
{"data": {"name": "se_d"}, "mark": {"type": "errorbar", "color": "black", "thickness": 1.3},
 "encoding": {"x": {"field": "lo", "type": "quantitative", "axis": null}, "x2": {"field": "hi"}, "y": {"field": "n", "type": "quantitative", "axis": null}}},
{"data": {"name": "se_d"}, "mark": {"type": "point", "filled": true, "color": "black", "size": 30, "opacity": 1},
 "encoding": {"x": {"field": "c", "type": "quantitative", "axis": null}, "y": {"field": "n", "type": "quantitative", "axis": null}}}
]}
],
"resolve": {"scale": {"x": "independent", "y": "independent"}, "legend": {"color": "independent", "stroke": "independent"}},
"config": {
 "font": "Liberation Sans",
 "view": {"stroke": "black", "strokeWidth": 1.5},
 "axis": {"domainColor": "black", "domainWidth": 1.5, "tickColor": "black", "tickWidth": 1.2, "labelColor": "black", "titleColor": "black", "labelFont": "Liberation Sans", "titleFont": "Liberation Sans", "labelFontSize": 18, "titleFontSize": 22, "titleFontWeight": "normal", "grid": false},
 "title": {"font": "Liberation Sans", "fontSize": 16, "fontWeight": "normal", "anchor": "end", "frame": "group", "color": "black", "offset": 7, "dx": -8}
}
}
